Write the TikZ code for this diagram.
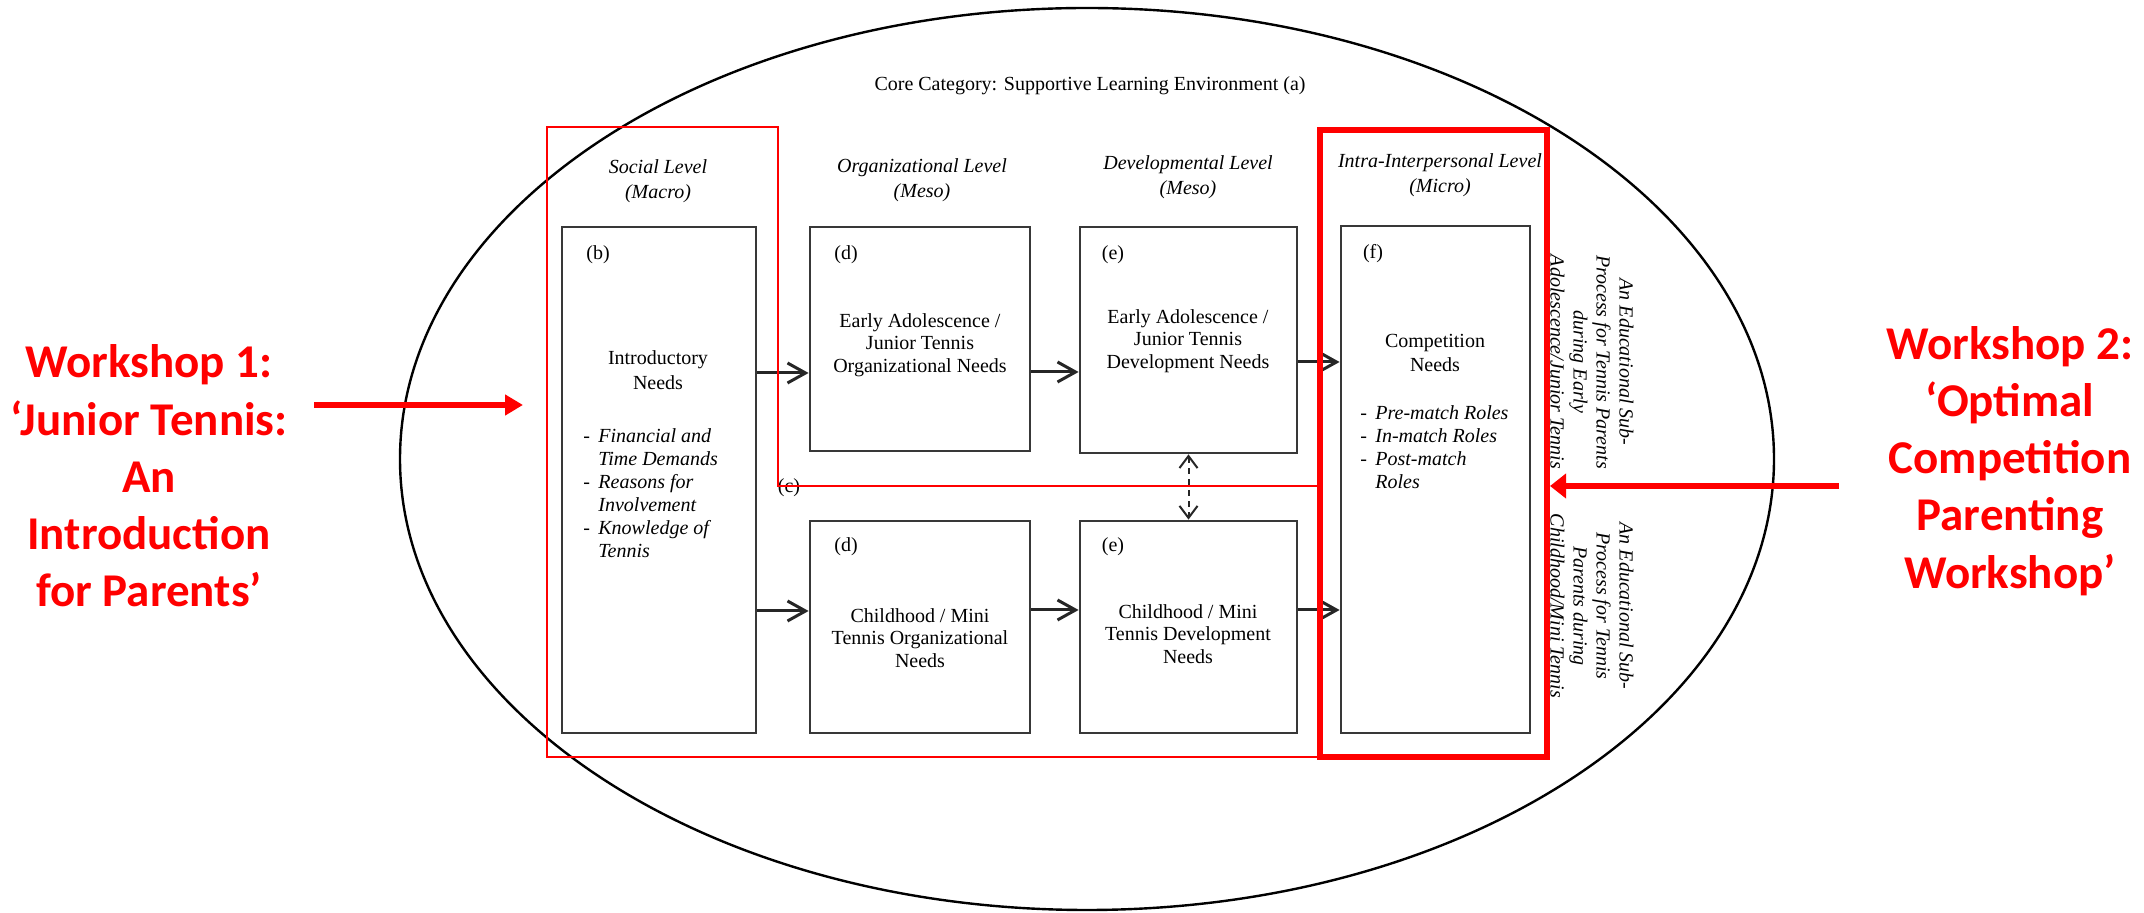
\documentclass[tikz,border=0pt]{standalone}
\usepackage{fontspec}
\setmainfont{Liberation Serif}
\newfontfamily\wsfont{Carlito}
\usetikzlibrary{arrows.meta}
\newcommand{\itmdash}{\makebox[7.5pt][l]{-}}
\newcommand{\itmind}{\makebox[7.5pt]{}}
\begin{document}
\begin{tikzpicture}[x=0.5pt,y=-0.5pt,
  box/.style={draw=black!78, line width=1.4pt, inner sep=0pt},
  lbl/.style={font=\fontsize{10}{11.5}\selectfont, inner sep=0pt},
  hdr/.style={font=\fontsize{10}{12.5}\selectfont\itshape, align=center, inner sep=0pt},
  btxt/.style={font=\fontsize{10}{11.25}\selectfont, align=center, inner sep=0pt},
  itms/.style={font=\fontsize{10}{11.5}\selectfont, align=left, inner sep=0pt, anchor=west},
  side/.style={font=\fontsize{10}{11.5}\selectfont\itshape, align=center, inner sep=0pt, rotate=-90},
  flow/.style={line width=1.5pt, draw=black!85, -{Straight Barb[length=9pt,width=10pt]}},
  dflow/.style={line width=1pt, draw=black!85, dash pattern=on 3pt off 2.5pt, {Straight Barb[length=6pt,width=9pt]}-{Straight Barb[length=6pt,width=9pt]}},
  redthin/.style={draw=red, line width=1.3pt},
  redthick/.style={draw=red, line width=3pt},
  wtxt/.style={font=\wsfont\bfseries\fontsize{23.5}{28.6}\selectfont, text=red, align=center, inner sep=0pt},
  redarrow/.style={draw=red, line width=3.4pt, -{Triangle[length=9pt,width=10pt]}},
  redarrowb/.style={draw=red, line width=2.8pt, -{Triangle[length=8pt,width=12pt]}},
]
\useasboundingbox (0,0) rectangle (2144,913);
\fill[white] (0,0) rectangle (2144,913);

% environment ellipse
\draw[line width=1.2pt] (1087,459) ellipse [x radius=687, y radius=451];
\node (core) [lbl] at (1090,86) {Core Category: Supportive Learning Environment (a)};

% level headers
\node (hs) [hdr] at (658,181) {Social Level\\(Macro)};
\node (ho) [hdr] at (922,180) {Organizational Level\\(Meso)};
\node (hd) [hdr] at (1188,177) {Developmental Level\\(Meso)};
\node (hi) [hdr] at (1440,175) {Intra-Interpersonal Level\\(Micro)};

% boxes
\node (bb) [box, minimum width=97pt, minimum height=253pt] at (659,480) {};
\node (dt) [box, minimum width=110pt, minimum height=112pt] at (920,339) {};
\node (et) [box, minimum width=108.5pt, minimum height=113pt] at (1188.5,340) {};
\node (db) [box, minimum width=110pt, minimum height=106pt] at (920,627) {};
\node (eb) [box, minimum width=108.5pt, minimum height=106pt] at (1188.5,627) {};
\node (ff) [box, minimum width=94.5pt, minimum height=253.5pt] at (1435.5,479.5) {};

% box labels
\node (lb) [lbl] at (598,255) {(b)};
\node (ldt) [lbl] at (846,255) {(d)};
\node (let) [lbl] at (1113,255) {(e)};
\node (lf) [lbl] at (1373,254) {(f)};
\node (ldb) [lbl] at (846,547) {(d)};
\node (leb) [lbl] at (1113,547) {(e)};

% box texts
\node (tb) [btxt, font=\fontsize{10}{12.5}\selectfont] at (658,370) {Introductory\\Needs};
\node (ib) [itms] at (583,493) {\itmdash\textit{Financial and}\\\itmind\textit{Time Demands}\\\itmdash\textit{Reasons for}\\\itmind\textit{Involvement}\\\itmdash\textit{Knowledge of}\\\itmind\textit{Tennis}};
\node (tdt) [btxt] at (920,345) {Early Adolescence /\\Junior Tennis\\Organizational Needs};
\node (tet) [btxt] at (1188,341) {Early Adolescence /\\Junior Tennis\\Development Needs};
\node (tdb) [btxt] at (920,638) {Childhood / Mini\\Tennis Organizational\\Needs};
\node (teb) [btxt] at (1188,634) {Childhood / Mini\\Tennis Development\\Needs};
\node (tf) [btxt, font=\fontsize{10}{12}\selectfont] at (1435,353) {Competition\\Needs};
\node (iff) [itms] at (1360,447) {\itmdash\textit{Pre-match Roles}\\\itmdash\textit{In-match Roles}\\\itmdash\textit{Post-match}\\\itmind\textit{Roles}};

% flow arrows
\draw[flow] (bb.east |- 0,373) -- (dt.west |- 0,373);
\draw[flow] (dt.east |- 0,372) -- (et.west |- 0,372);
\draw[flow] (et.east |- 0,362) -- (ff.west |- 0,362);
\draw[flow] (bb.east |- 0,611) -- (db.west |- 0,611);
\draw[flow] (db.east |- 0,610) -- (eb.west |- 0,610);
\draw[flow] (eb.east |- 0,610) -- (ff.west |- 0,610);
\draw[dflow] (et.south) -- (eb.north);

\node (lc) [lbl] at (789,488) {(c)};

% side texts
\node (s1) [side] at (1592,362) {An Educational Sub-\\Process for Tennis Parents\\during Early\\Adolescence/Junior Tennis};
\node (s2) [side] at (1592,606) {An Educational Sub-\\Process for Tennis\\Parents during\\Childhood/Mini Tennis};

% red overlays
\draw[redthin] (1320,486) -- (778,486) -- (778,127) -- (547,127) -- (547,757) -- (1320,757);
\draw[redthick] (1320,130) rectangle (1547,757);

% workshops
\node (w1) [wtxt] at (149,476) {Workshop 1:\\‘Junior Tennis:\\An\\Introduction\\for Parents’};
\coordinate (w1s) at (314,405);
\coordinate (w1e) at (523,405);
\draw[redarrow] (w1s) -- (w1e);

\node (w2) [wtxt] at (2010,461) {Workshop 2:\\‘Optimal\\Competition\\Parenting\\Workshop’};
\coordinate (w2s) at (1839,486);
\coordinate (w2e) at (1550,486);
\draw[redarrowb] (w2s) -- (w2e);
\end{tikzpicture}
\end{document}
